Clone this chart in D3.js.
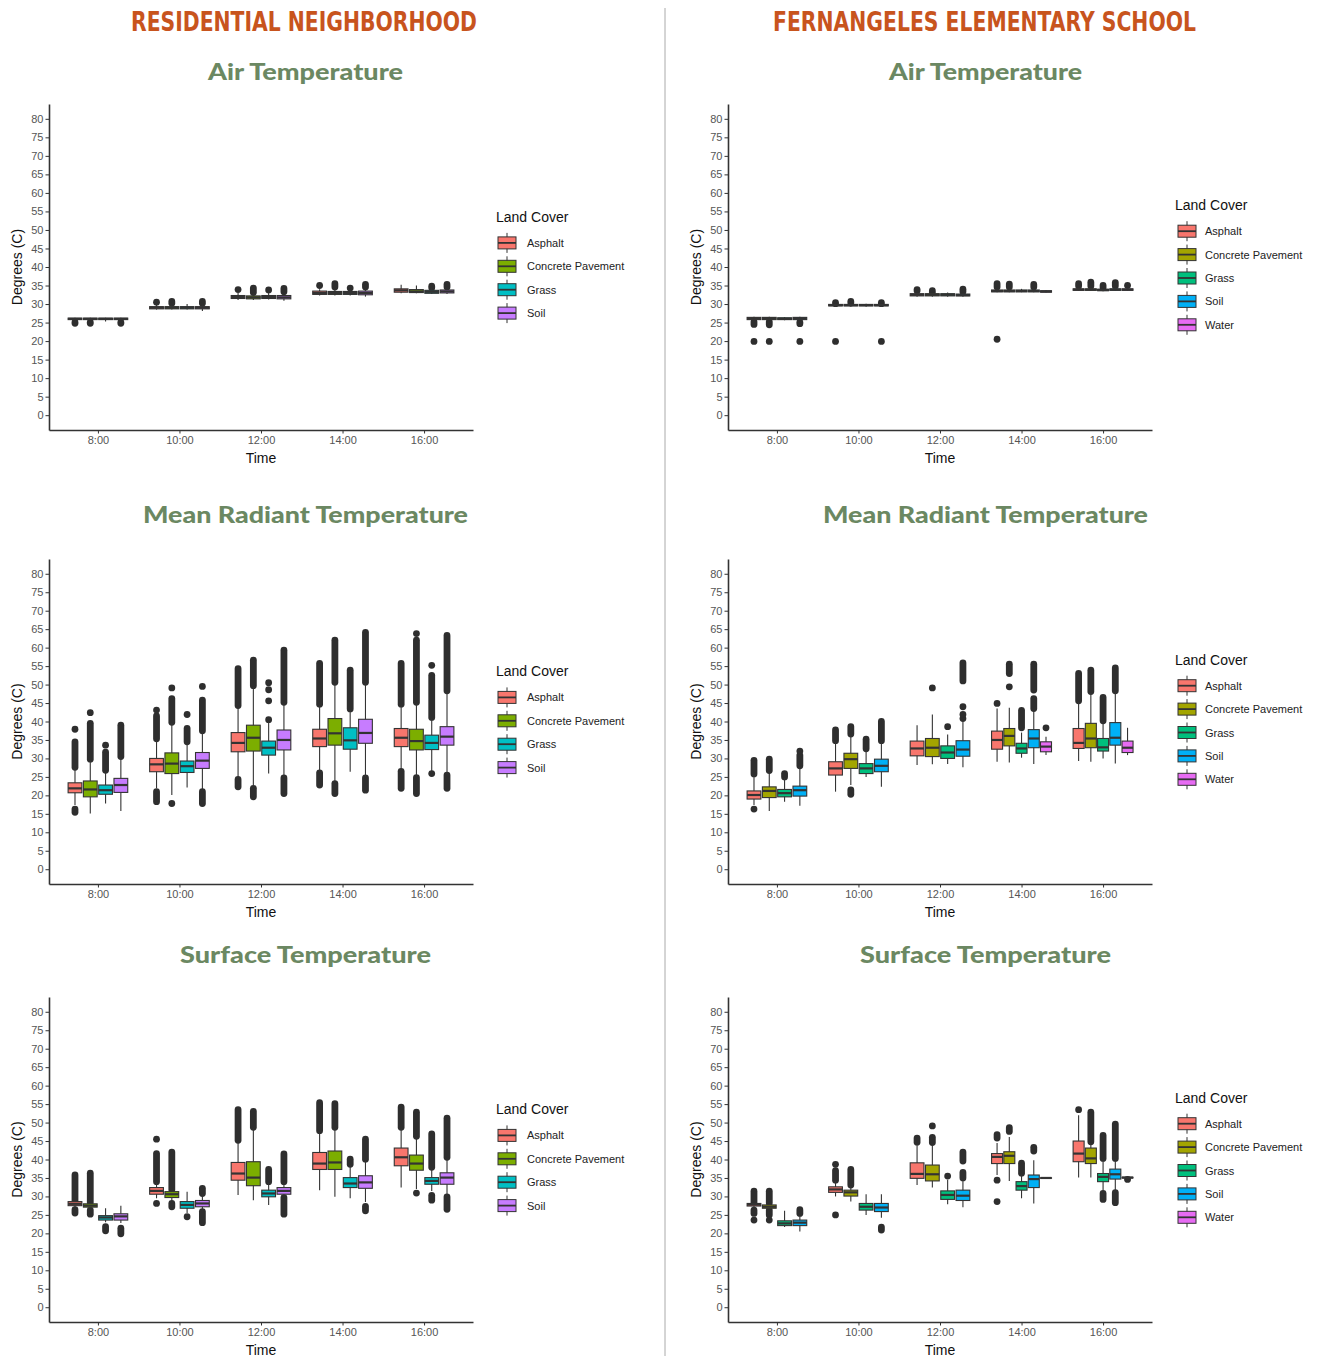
<!DOCTYPE html>
<html><head><meta charset="utf-8">
<script src="https://cdn.jsdelivr.net/npm/d3@7"></script>
<style>body{margin:0;background:#fff}svg{display:block}</style>
</head><body>
<svg id="c" width="1323" height="1359"></svg>
<script>
const AS = "Asphalt", CP = "Concrete Pavement", GR = "Grass", SO = "Soil", WA = "Water";
const times = ["8:00", "10:00", "12:00", "14:00", "16:00"];
const yTicks = [0, 5, 10, 15, 20, 25, 30, 35, 40, 45, 50, 55, 60, 65, 70, 75, 80];
const resCovers = [AS, CP, GR, SO];
const schoolCovers = [AS, CP, GR, SO, WA];
const resColors = ["#F8766D", "#7CAE00", "#00BFC4", "#C77CFF"];
const schoolColors = ["#F8766D", "#A3A500", "#00BF7D", "#00B0F6", "#E76BF3"];
const headers = ["RESIDENTIAL NEIGHBORHOOD", "FERNANGELES ELEMENTARY SCHOOL"];
const titles = ["Air Temperature", "Mean Radiant Temperature", "Surface Temperature"];

// boxes: [time, cover, lowerWhisker, q1, median, q3, upperWhisker]
const resAirBoxes = [
  ["8:00",AS,25.5,25.8,26.0,26.2,26.3],["8:00",CP,25.5,25.8,26.0,26.2,26.3],["8:00",GR,25.3,25.8,26.0,26.2,26.3],["8:00",SO,25.5,25.8,26.0,26.2,26.3],
  ["10:00",AS,28.5,28.7,29.0,29.3,29.8],["10:00",CP,28.5,28.7,29.0,29.3,29.8],["10:00",GR,28.5,28.7,29.0,29.3,30.0],["10:00",SO,28.1,28.7,29.0,29.3,29.8],
  ["12:00",AS,31.1,31.5,31.9,32.3,33.0],["12:00",CP,31.1,31.4,31.8,32.2,32.9],["12:00",GR,31.2,31.5,31.9,32.3,33.0],["12:00",SO,30.9,31.4,31.8,32.3,32.9],
  ["14:00",AS,32.3,32.6,33.0,33.5,34.0],["14:00",CP,32.3,32.6,33.0,33.4,34.0],["14:00",GR,32.3,32.6,33.0,33.4,33.9],["14:00",SO,32.0,32.5,33.0,33.5,34.0],
  ["16:00",AS,32.9,33.2,33.7,34.1,35.2],["16:00",CP,32.9,33.1,33.4,33.9,35.0],["16:00",GR,32.7,32.9,33.3,33.7,34.2],["16:00",SO,32.7,33.0,33.4,33.8,34.2]
];
// single outliers: [time, cover, value]; dense outlier runs: [time, cover, from, to]
const resAirPoints = [["10:00",AS,30.5],["12:00",AS,33.9],["12:00",GR,33.8],["14:00",AS,35.0],["14:00",GR,34.3]];
const resAirRuns = [["8:00",AS,24.8,25.1],["8:00",CP,24.8,25.1],["8:00",SO,24.8,25.1],["10:00",CP,30.2,30.7],["10:00",SO,30.2,30.7],
  ["12:00",CP,33.1,34.3],["12:00",SO,33.3,34.2],["14:00",CP,34.6,35.5],["14:00",SO,34.6,35.3],["16:00",GR,34.4,34.8],["16:00",SO,34.6,35.3]];

const schoolAirBoxes = [
  ["8:00",AS,25.6,25.8,26.1,26.4,26.6],["8:00",CP,25.6,25.8,26.1,26.4,26.6],["8:00",GR,25.6,25.8,26.0,26.3,26.5],["8:00",SO,25.6,25.8,26.1,26.4,26.6],
  ["10:00",AS,29.3,29.5,29.7,29.9,30.0],["10:00",CP,29.3,29.5,29.7,29.9,30.0],["10:00",GR,29.3,29.5,29.7,29.9,30.1],["10:00",SO,29.3,29.5,29.7,29.9,30.0],
  ["12:00",AS,32.0,32.2,32.5,32.8,33.0],["12:00",CP,32.0,32.2,32.5,32.8,33.0],["12:00",GR,32.0,32.2,32.5,32.8,33.1],["12:00",SO,32.0,32.2,32.4,32.7,33.0],
  ["14:00",AS,33.2,33.3,33.5,33.8,34.1],["14:00",CP,33.2,33.3,33.5,33.8,34.1],["14:00",GR,33.2,33.3,33.5,33.8,34.1],["14:00",SO,33.2,33.3,33.5,33.8,34.1],["14:00",WA,33.1,33.2,33.4,33.6,33.8],
  ["16:00",AS,33.6,33.7,33.9,34.1,34.4],["16:00",CP,33.6,33.7,33.9,34.1,34.4],["16:00",GR,33.5,33.6,33.8,34.0,34.2],["16:00",SO,33.6,33.7,33.9,34.1,34.4],["16:00",WA,33.6,33.7,33.9,34.1,34.4]
];
const schoolAirPoints = [["8:00",AS,19.9],["8:00",CP,19.9],["8:00",SO,19.9],["10:00",AS,19.9],["10:00",SO,19.9],["14:00",AS,20.5],["16:00",WA,35.0]];
const schoolAirRuns = [["8:00",AS,24.5,25.2],["8:00",CP,24.4,25.2],["8:00",SO,24.7,25.1],["10:00",AS,30.1,30.4],["10:00",CP,30.3,30.7],["10:00",SO,30.1,30.4],
  ["12:00",AS,33.6,33.9],["12:00",CP,33.2,33.6],["12:00",SO,33.3,34.0],["14:00",AS,34.6,35.5],["14:00",CP,34.6,35.4],["14:00",SO,34.6,35.3],
  ["16:00",AS,34.9,35.5],["16:00",CP,34.9,35.9],["16:00",GR,34.4,35.0],["16:00",SO,34.9,35.8]];

const resMrtBoxes = [
  ["8:00",AS,17.4,20.7,21.9,23.4,27.3],["8:00",CP,15.1,19.6,21.6,23.9,29.5],["8:00",GR,17.8,20.3,21.4,22.8,26.4],["8:00",SO,15.8,20.8,22.8,24.6,30.2],
  ["10:00",AS,21.9,26.4,28.4,30.0,35.0],["10:00",CP,20.1,25.9,28.6,31.5,39.5],["10:00",GR,22.1,26.2,27.9,29.3,34.1],["10:00",SO,21.4,27.3,29.4,31.6,37.2],
  ["12:00",AS,24.6,31.8,34.2,37.0,44.0],["12:00",CP,22.3,32.0,35.6,39.0,49.4],["12:00",GR,25.9,30.9,32.9,34.7,39.9],["12:00",SO,25.0,32.3,35.0,37.7,44.9],
  ["14:00",AS,26.4,33.2,35.4,37.9,44.4],["14:00",CP,23.7,33.6,36.8,40.8,50.3],["14:00",GR,26.4,32.5,34.9,38.3,43.1],["14:00",SO,25.0,34.1,36.9,40.6,50.3],
  ["16:00",AS,27.0,33.2,35.6,38.1,44.4],["16:00",CP,25.3,32.3,34.7,37.9,44.9],["16:00",GR,26.5,32.4,34.2,36.3,40.8],["16:00",SO,25.8,33.6,35.9,38.6,48.0]
];
const resMrtPoints = [["8:00",AS,37.9],["8:00",CP,42.4],["8:00",GR,33.6],["10:00",AS,43.1],["10:00",CP,49.1],["10:00",CP,17.8],["10:00",GR,41.9],["10:00",SO,49.5],
  ["12:00",GR,40.5],["12:00",GR,45.6],["12:00",GR,48.6],["12:00",GR,50.5],["16:00",CP,63.8],["16:00",GR,55.2],["16:00",GR,25.9]];
const resMrtRuns = [["8:00",AS,27.6,34.5],["8:00",AS,15.4,16.3],["8:00",CP,29.8,39.5],["8:00",GR,26.8,31.7],["8:00",SO,30.5,39.0],
  ["10:00",AS,35.3,41.5],["10:00",AS,18.3,21.0],["10:00",CP,39.8,46.2],["10:00",GR,34.5,38.1],["10:00",SO,37.5,45.8],["10:00",SO,17.8,21.0],
  ["12:00",AS,44.3,54.3],["12:00",AS,22.3,24.3],["12:00",CP,49.7,56.6],["12:00",CP,19.6,21.9],["12:00",SO,45.2,59.3],["12:00",SO,20.5,24.7],
  ["14:00",AS,44.7,55.7],["14:00",AS,22.8,26.1],["14:00",CP,50.6,62.0],["14:00",CP,20.5,23.2],["14:00",GR,43.4,53.9],["14:00",SO,50.6,64.1],["14:00",SO,21.4,24.7],
  ["16:00",AS,44.7,55.7],["16:00",AS,21.9,26.5],["16:00",CP,45.2,62.0],["16:00",CP,20.5,24.8],["16:00",GR,41.1,52.5],["16:00",SO,48.3,63.3],["16:00",SO,21.9,25.5]];

const schoolMrtBoxes = [
  ["8:00",AS,17.4,19.0,20.1,21.2,25.5],["8:00",CP,15.8,19.4,21.2,22.3,26.4],["8:00",GR,18.3,19.6,20.6,21.6,24.8],["8:00",SO,17.2,19.8,21.4,22.5,27.7],
  ["10:00",AS,21.0,25.5,27.3,29.1,34.5],["10:00",CP,22.8,27.3,29.8,31.4,36.3],["10:00",GR,25.0,25.9,27.3,28.6,32.3],["10:00",SO,22.3,26.4,28.0,29.8,34.5],
  ["12:00",AS,28.2,30.7,32.7,34.7,39.0],["12:00",CP,28.4,30.5,32.9,35.4,41.9],["12:00",GR,28.5,30.0,31.6,33.4,36.5],["12:00",SO,27.6,30.6,32.4,34.8,39.9],
  ["14:00",AS,29.1,32.5,35.0,37.4,43.5],["14:00",CP,28.9,33.4,36.1,38.1,43.7],["14:00",GR,30.2,31.4,32.7,34.1,37.0],["14:00",SO,28.5,32.9,35.4,37.8,43.0],["14:00",WA,30.9,31.8,33.2,34.5,35.9],
  ["16:00",AS,29.3,32.7,34.2,38.1,45.3],["16:00",CP,29.1,32.9,35.4,39.5,47.8],["16:00",GR,30.0,32.0,33.0,35.4,39.9],["16:00",SO,28.6,33.6,35.6,39.7,48.0],["16:00",WA,30.9,31.6,32.9,34.7,38.3]
];
const schoolMrtPoints = [["8:00",AS,16.3],["8:00",SO,32.0],["12:00",CP,49.1],["12:00",GR,38.6],["12:00",SO,40.8],["12:00",SO,41.9],["12:00",SO,44.0],
  ["14:00",AS,44.9],["14:00",CP,49.4],["14:00",WA,38.3]];
const schoolMrtRuns = [["8:00",AS,25.8,29.5],["8:00",CP,26.7,29.8],["8:00",GR,25.0,25.9],["8:00",SO,28.0,30.9],
  ["10:00",AS,34.8,37.7],["10:00",CP,36.6,38.6],["10:00",CP,20.3,21.5],["10:00",GR,32.6,35.2],["10:00",SO,34.8,40.0],
  ["12:00",SO,51.0,55.9],["14:00",CP,53.0,55.5],["14:00",GR,38.3,43.0],["14:00",SO,43.5,46.2],["14:00",SO,48.5,55.5],
  ["16:00",AS,45.6,53.0],["16:00",CP,48.1,53.9],["16:00",GR,40.2,46.5],["16:00",SO,48.3,54.5]];

const resSurfBoxes = [
  ["8:00",AS,27.0,27.5,28.0,28.6,28.8],["8:00",CP,26.8,27.1,27.5,28.0,28.2],["8:00",GR,23.0,23.6,24.3,24.8,26.8],["8:00",SO,22.8,23.6,24.6,25.3,27.5],
  ["10:00",AS,29.5,30.6,31.5,32.4,33.8],["10:00",CP,28.7,29.7,30.6,31.3,31.6],["10:00",GR,25.5,26.8,27.7,28.6,31.3],["10:00",SO,26.3,27.2,28.1,28.9,30.5],
  ["12:00",AS,30.4,34.4,36.2,39.2,44.9],["12:00",CP,29.0,32.9,35.1,39.4,48.4],["12:00",GR,27.7,29.9,30.8,31.7,33.8],["12:00",SO,30.0,30.6,31.5,32.4,33.8],
  ["14:00",AS,31.7,37.3,38.9,41.9,47.5],["14:00",CP,29.9,37.3,39.2,42.3,48.4],["14:00",GR,29.5,32.4,33.5,35.1,38.5],["14:00",SO,28.5,32.2,33.8,35.6,39.8],
  ["16:00",AS,32.4,38.3,40.6,43.1,48.4],["16:00",CP,32.0,37.1,38.9,41.2,46.0],["16:00",GR,31.5,33.3,34.2,35.1,37.6],["16:00",SO,30.5,33.3,35.1,36.4,40.3]
];
const resSurfPoints = [["10:00",AS,45.5],["10:00",AS,28.1],["10:00",GR,24.5],["16:00",CP,30.9]];
const resSurfRuns = [["8:00",AS,28.9,35.8],["8:00",AS,25.5,26.4],["8:00",CP,28.4,36.3],["8:00",CP,25.2,26.3],["8:00",GR,20.7,21.8],["8:00",SO,19.9,21.4],
  ["10:00",AS,34.0,41.6],["10:00",CP,31.8,42.0],["10:00",CP,27.2,28.1],["10:00",SO,30.8,32.2],["10:00",SO,22.9,25.9],
  ["12:00",AS,45.2,53.5],["12:00",CP,48.7,53.0],["12:00",GR,34.0,37.3],["12:00",SO,34.0,41.5],["12:00",SO,25.2,29.7],
  ["14:00",AS,47.8,55.4],["14:00",CP,48.7,55.1],["14:00",GR,38.7,40.1],["14:00",SO,40.1,45.5],["14:00",SO,26.1,27.3],
  ["16:00",AS,48.7,54.2],["16:00",CP,46.3,52.8],["16:00",GR,37.9,46.9],["16:00",GR,29.0,30.3],["16:00",SO,40.6,51.2],["16:00",SO,26.5,29.9]];

const schoolSurfBoxes = [
  ["8:00",AS,26.8,27.4,27.8,28.1,28.2],["8:00",CP,26.5,26.8,27.2,27.7,28.0],["8:00",GR,21.7,22.1,22.7,23.4,26.1],["8:00",SO,20.5,22.1,22.9,23.6,25.0],
  ["10:00",AS,30.0,31.1,31.9,32.6,34.2],["10:00",CP,28.6,30.1,31.1,31.7,32.9],["10:00",GR,25.0,26.3,27.2,28.1,30.6],["10:00",SO,24.2,25.9,27.0,28.1,30.6],
  ["12:00",AS,33.1,34.9,36.1,39.1,44.3],["12:00",CP,32.4,34.2,36.0,38.5,44.0],["12:00",GR,27.9,29.2,30.4,31.5,34.5],["12:00",SO,27.1,28.9,30.2,31.7,34.3],
  ["14:00",AS,35.8,38.9,40.7,41.6,44.5],["14:00",CP,34.2,38.9,41.0,42.1,46.1],["14:00",GR,29.5,31.7,32.8,34.0,35.8],["14:00",SO,28.1,32.4,34.7,35.8,39.8],["14:00",WA,34.9,34.95,35.0,35.05,35.1],
  ["16:00",AS,35.1,39.4,41.6,45.0,52.0],["16:00",CP,35.1,38.9,40.3,43.1,44.5],["16:00",GR,31.5,34.0,35.3,36.2,40.0],["16:00",SO,31.5,34.7,36.0,37.4,40.0],["16:00",WA,34.9,35.0,35.1,35.2,35.3]
];
const schoolSurfPoints = [["8:00",AS,23.6],["8:00",CP,23.6],["10:00",AS,38.7],["10:00",AS,25.0],["12:00",CP,49.1],["12:00",GR,35.5],
  ["14:00",AS,34.4],["14:00",AS,28.6],["16:00",AS,53.5],["16:00",WA,34.6]];
const schoolSurfRuns = [["8:00",AS,28.3,31.4],["8:00",AS,25.4,26.3],["8:00",CP,28.2,31.4],["8:00",CP,25.0,26.3],["8:00",SO,25.4,26.4],
  ["10:00",AS,34.4,37.0],["10:00",CP,33.1,37.3],["10:00",SO,20.9,21.7],
  ["12:00",AS,44.7,45.8],["12:00",CP,44.6,46.0],["12:00",SO,35.0,36.5],["12:00",SO,39.6,42.0],
  ["14:00",AS,45.8,46.7],["14:00",CP,47.6,48.6],["14:00",GR,36.3,39.0],["14:00",SO,42.3,43.3],
  ["16:00",CP,44.8,52.8],["16:00",GR,40.3,46.5],["16:00",GR,29.2,30.8],["16:00",SO,40.3,49.6],["16:00",SO,28.3,31.0]];

const FONT = "'Liberation Sans', Arial, Helvetica, sans-serif";
const TITLE_FONT = "Lato, 'Open Sans', sans-serif";
const R = 3.4;
const svg = d3.select("#c");

const sides = [
  {x0: 49, x1: 473, headerX: 304, headerW: 346, titleX: 305.5, covers: resCovers, colors: resColors,
   legX: 496, keyX: 498, labX: 527,
   data: [[resAirBoxes, resAirPoints, resAirRuns], [resMrtBoxes, resMrtPoints, resMrtRuns], [resSurfBoxes, resSurfPoints, resSurfRuns]]},
  {x0: 728, x1: 1152, headerX: 984.5, headerW: 423, titleX: 985.5, covers: schoolCovers, colors: schoolColors,
   legX: 1175, keyX: 1178, labX: 1205,
   data: [[schoolAirBoxes, schoolAirPoints, schoolAirRuns], [schoolMrtBoxes, schoolMrtPoints, schoolMrtRuns], [schoolSurfBoxes, schoolSurfPoints, schoolSurfRuns]]}
];
const rows = [
  {top: 104, bottom: 430, titleY: 80, titleW: [195, 193]},
  {top: 559, bottom: 884, titleY: 522.5, titleW: [325, 325]},
  {top: 997, bottom: 1322, titleY: 962.5, titleW: [251, 251]}
];

// divider
svg.append("line").attr("x1", 665).attr("x2", 665).attr("y1", 8).attr("y2", 1356)
  .attr("stroke", "#aaa").attr("stroke-width", 1);

sides.forEach((s, si) => {
  svg.append("text").attr("x", s.headerX).attr("y", 31).attr("text-anchor", "middle")
    .attr("font-family", "'Liberation Sans Narrow', 'DejaVu Sans Condensed', 'Roboto', sans-serif")
    .attr("font-weight", 700).attr("font-size", 26).attr("fill", "#c8541d")
    .attr("textLength", s.headerW).attr("lengthAdjust", "spacingAndGlyphs").text(headers[si]);

  rows.forEach((r, ri) => {
    const [boxes, points, runs] = s.data[ri];
    const g = svg.append("g");
    const x = d3.scalePoint().domain(times).range([s.x0, s.x1]).padding(0.6);
    const y = d3.scaleLinear().domain([-4, 84]).range([r.bottom, r.top]);
    const color = d3.scaleOrdinal().domain(s.covers).range(s.colors);
    const step = x.step();
    const pos = new Map();
    times.forEach(t => {
      const present = s.covers.filter(c => boxes.some(b => b[0] === t && b[1] === c));
      const n = present.length, slot = 0.75 * step / n;
      present.forEach((c, i) => pos.set(t + "|" + c, {cx: x(t) + (i - (n - 1) / 2) * slot, w: slot * 0.9}));
    });
    const P = (t, c) => pos.get(t + "|" + c);

    // title
    g.append("text").attr("x", s.titleX).attr("y", r.titleY).attr("text-anchor", "middle")
      .attr("font-family", TITLE_FONT).attr("font-weight", 900).attr("font-size", 22)
      .attr("fill", "#6b8862").attr("textLength", r.titleW[si]).attr("lengthAdjust", "spacingAndGlyphs")
      .text(titles[ri]);

    // outliers
    g.append("g").selectAll("line").data(runs).join("line")
      .attr("x1", d => P(d[0], d[1]).cx).attr("x2", d => P(d[0], d[1]).cx)
      .attr("y1", d => y(d[2])).attr("y2", d => y(d[3]))
      .attr("stroke", "#2e2e2e").attr("stroke-width", 2 * R).attr("stroke-linecap", "round");
    g.append("g").selectAll("circle").data(points).join("circle")
      .attr("cx", d => P(d[0], d[1]).cx).attr("cy", d => y(d[2])).attr("r", R).attr("fill", "#2e2e2e");

    // boxes
    const bg = g.append("g").selectAll("g").data(boxes).join("g");
    bg.append("line").attr("x1", d => P(d[0], d[1]).cx).attr("x2", d => P(d[0], d[1]).cx)
      .attr("y1", d => y(d[2])).attr("y2", d => y(d[6])).attr("stroke", "#333").attr("stroke-width", 1.1);
    bg.append("rect").attr("x", d => P(d[0], d[1]).cx - P(d[0], d[1]).w / 2).attr("width", d => P(d[0], d[1]).w)
      .attr("y", d => y(d[5])).attr("height", d => Math.max(0.5, y(d[3]) - y(d[5])))
      .attr("fill", d => color(d[1])).attr("stroke", "#333").attr("stroke-width", 1.1);
    bg.append("line").attr("x1", d => P(d[0], d[1]).cx - P(d[0], d[1]).w / 2).attr("x2", d => P(d[0], d[1]).cx + P(d[0], d[1]).w / 2)
      .attr("y1", d => y(d[4])).attr("y2", d => y(d[4])).attr("stroke", "#333").attr("stroke-width", 2.2);

    // axes
    const ya = g.append("g").attr("transform", `translate(${s.x0},0)`)
      .call(d3.axisLeft(y).tickValues(yTicks).tickSize(3.5).tickSizeOuter(0).tickPadding(2));
    const xa = g.append("g").attr("transform", `translate(0,${r.bottom})`)
      .call(d3.axisBottom(x).tickSize(3.5).tickSizeOuter(0).tickPadding(3));
    [ya, xa].forEach(a => {
      a.select(".domain").attr("stroke", "#333").attr("stroke-width", 1.6);
      a.selectAll(".tick line").attr("stroke", "#333").attr("stroke-width", 1);
      a.selectAll(".tick text").attr("font-size", 11).attr("fill", "#555").attr("font-family", FONT);
    });
    g.append("text").attr("x", (s.x0 + s.x1) / 2).attr("y", r.bottom + 33).attr("text-anchor", "middle")
      .attr("font-family", FONT).attr("font-size", 14).attr("fill", "#111").text("Time");
    g.append("text").attr("transform", `translate(${s.x0 - 27},${(r.top + r.bottom) / 2}) rotate(-90)`)
      .attr("text-anchor", "middle").attr("font-family", FONT).attr("font-size", 14).attr("fill", "#111").text("Degrees (C)");

    // legend
    const n = s.covers.length, spacing = 23.4;
    const center = (r.top + r.bottom) / 2;
    const start = center + 11 - (n - 1) * spacing / 2;
    g.append("text").attr("x", s.legX).attr("y", start - 21).attr("font-family", FONT).attr("font-size", 14)
      .attr("fill", "#111").text("Land Cover");
    const lg = g.append("g").selectAll("g").data(s.covers).join("g")
      .attr("transform", (d, i) => `translate(${s.keyX},${start + i * spacing})`);
    lg.append("line").attr("x1", 9).attr("x2", 9).attr("y1", -10).attr("y2", 10).attr("stroke", "#333").attr("stroke-width", 1);
    lg.append("rect").attr("x", 0).attr("y", -6).attr("width", 18).attr("height", 12)
      .attr("fill", d => color(d)).attr("stroke", "#333").attr("stroke-width", 1);
    lg.append("line").attr("x1", 0).attr("x2", 18).attr("y1", 0).attr("y2", 0).attr("stroke", "#333").attr("stroke-width", 1.8);
    lg.append("text").attr("x", s.labX - s.keyX).attr("y", 4).attr("font-family", FONT).attr("font-size", 11)
      .attr("fill", "#222").text(d => d);
  });
});
</script>
</body></html>
